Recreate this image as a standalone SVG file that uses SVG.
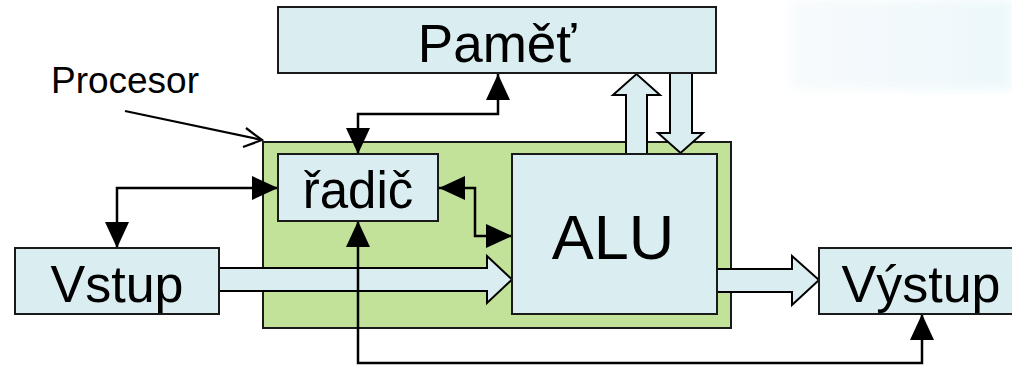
<svg xmlns="http://www.w3.org/2000/svg" width="1012" height="365" viewBox="0 0 1012 365">
  <style>
    .box { fill: #daedf0; stroke: #1a1a1a; stroke-width: 2; }
    .cpu { fill: #c2e299; stroke: #1a1a1a; stroke-width: 2; }
    .label { font-family: "Liberation Sans", Arial, sans-serif; fill: #000; text-anchor: middle; }
    .bus { fill: #daedf0; stroke: #000; stroke-width: 2; stroke-linejoin: miter; }
    .ctl { fill: none; stroke: #000; stroke-width: 2.5; marker-start: url(#head); marker-end: url(#head); }
    .ptr { fill: none; stroke: #000; stroke-width: 2.2; }
  </style>
  <defs>
    <marker id="head" markerUnits="userSpaceOnUse" markerWidth="26" markerHeight="24" refX="26" refY="12" orient="auto-start-reverse">
      <path d="M0,0 L26,12 L0,24 Z" fill="#000"/>
    </marker>
    <linearGradient id="hazeFill" x1="0" y1="0" x2="1" y2="0">
      <stop offset="0" stop-color="#f6f9fb"/>
      <stop offset="1" stop-color="#e6f6f9"/>
    </linearGradient>
    <filter id="soft" x="-10%" y="-20%" width="120%" height="140%">
      <feGaussianBlur stdDeviation="5"/>
    </filter>
  </defs>

  <rect width="1012" height="365" fill="#fff"/>
  <!-- faint background wash, upper right -->
  <rect x="790" y="0" width="222" height="90" fill="url(#hazeFill)" filter="url(#soft)" opacity="0.75"/>

  <!-- processor frame -->
  <g id="procesor">
    <rect class="cpu" x="263" y="142" width="468" height="186"/>
  </g>

  <g id="connectors">
    <!-- data buses -->
    <polygon class="bus" points="219,268 487,268 487,256 512,279.5 487,303 487,291 219,291"/>
    <polygon class="bus" points="717,269 792,269 792,256 819,280 792,305 792,292 717,292"/>
    <polygon class="bus" points="626,154 626,95 613,95 636.5,74 660,95 647,95 647,154"/>
    <polygon class="bus" points="670,73 670,133 658,133 680.5,153 703,133 692,133 692,73"/>
    <!-- control lines -->
    <path class="ctl" d="M358,154 L358,114 L498,114 L498,74"/>
    <path class="ctl" d="M278,188 L117,188 L117,248"/>
    <path class="ctl" d="M439,188 L475,188 L475,236 L512,236"/>
    <path class="ctl" d="M358,221 L358,363 L922,363 L922,314"/>
    <!-- label pointer -->
    <path class="ptr" d="M125,111 L262,140"/>
    <path class="ptr" d="M246,128 L262,140 L243,147"/>
  </g>

  <g id="pamet">
    <rect class="box" x="278" y="7" width="438" height="66"/>
    <text class="label" x="497" y="62" font-size="53">Paměť</text>
  </g>

  <g id="radic">
    <rect class="box" x="278" y="154" width="160" height="67"/>
    <text class="label" x="358" y="208" font-size="51">řadič</text>
  </g>

  <g id="alu">
    <rect class="box" x="512" y="154" width="205" height="160"/>
    <text class="label" x="613" y="259" font-size="63">ALU</text>
  </g>

  <g id="vstup">
    <rect class="box" x="15" y="248" width="204" height="66"/>
    <text class="label" x="117" y="302" font-size="52">Vstup</text>
  </g>

  <g id="vystup">
    <rect class="box" x="819" y="248" width="200" height="66"/>
    <text class="label" x="921" y="302" font-size="52">Výstup</text>
  </g>

  <g id="procesor-label">
    <text class="label" x="125" y="93" font-size="37">Procesor</text>
  </g>
</svg>
